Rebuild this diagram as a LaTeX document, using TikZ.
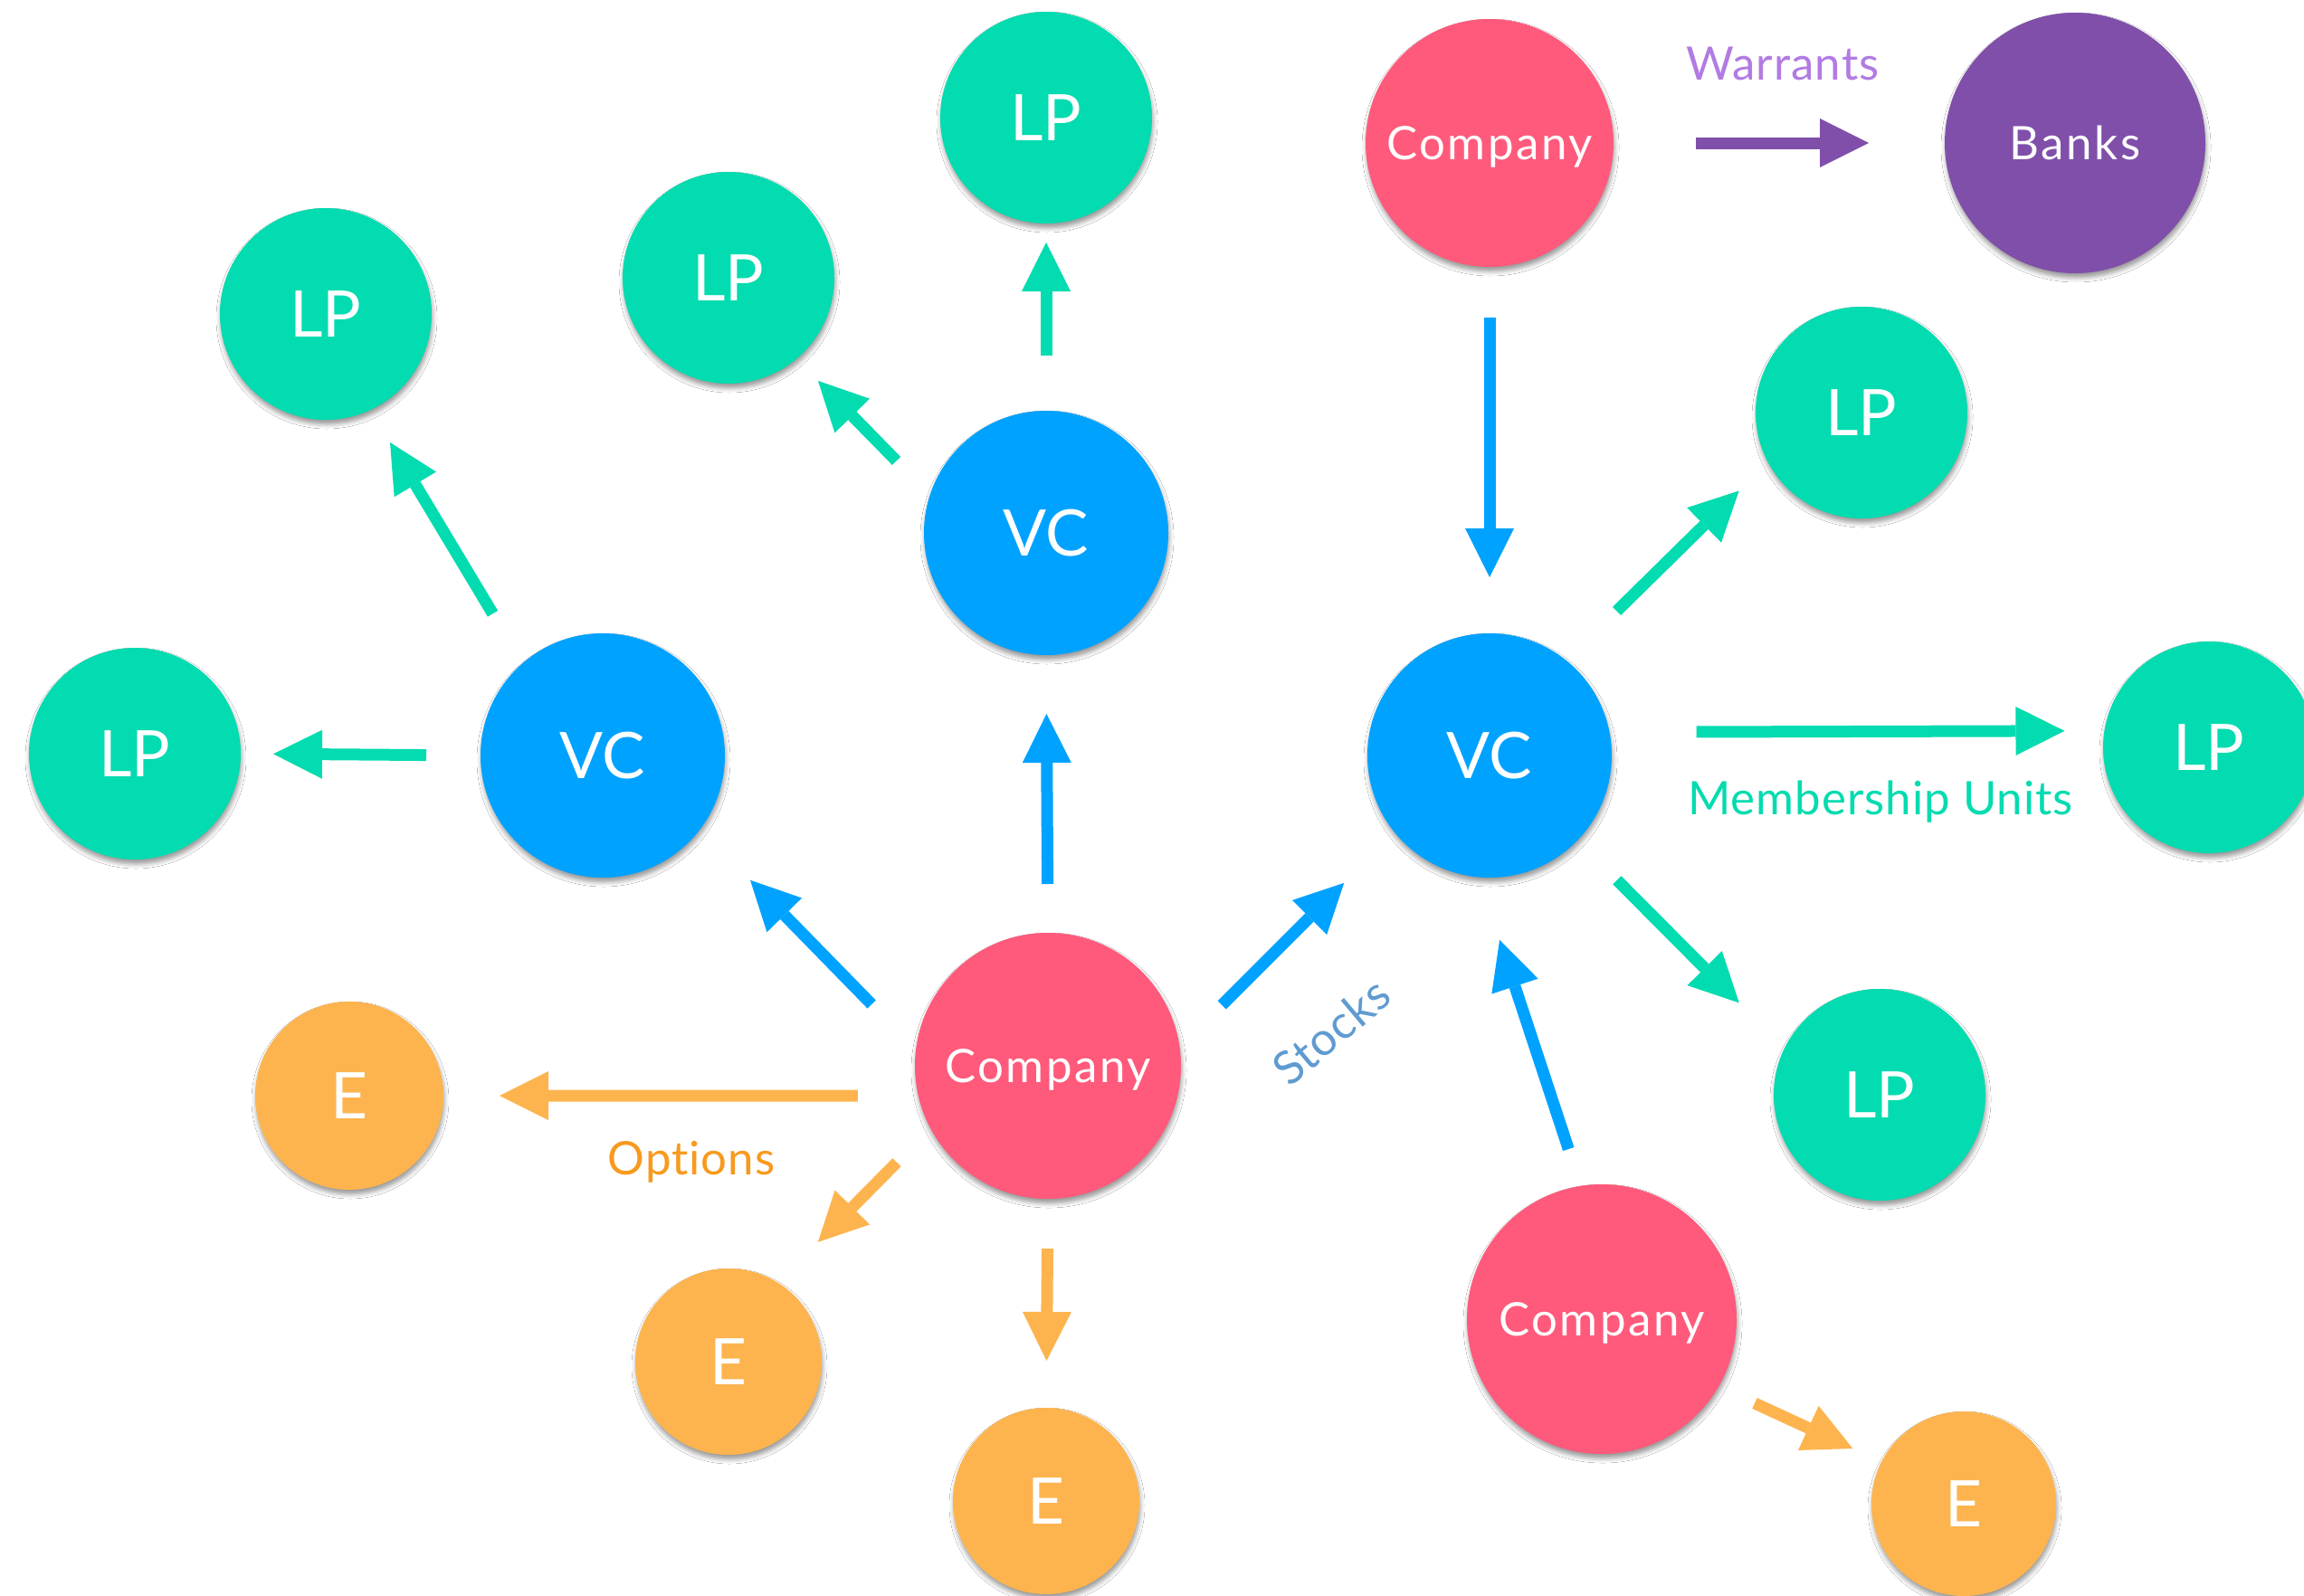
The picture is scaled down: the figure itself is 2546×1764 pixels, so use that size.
\documentclass[tikz,border=0pt]{standalone}
\usepackage{fontspec}
\setmainfont{Lato}
\usetikzlibrary{arrows.meta,shadows.blur}

\definecolor{lpgreen}{HTML}{03DBB0}
\definecolor{vcblue}{HTML}{00A2FF}
\definecolor{copink}{HTML}{FF5A7B}
\definecolor{bankpurple}{HTML}{804FAA}
\definecolor{eorange}{HTML}{FDB44E}
\definecolor{warrtext}{HTML}{B27BE3}
\definecolor{opttext}{HTML}{F79A1E}
\definecolor{stocktext}{HTML}{5F9BD0}

\newfontfamily\wideface[LetterSpace=5,Ligatures=NoCommon]{Lato}
\newfontfamily\labelface[LetterSpace=2,Ligatures=NoCommon]{Lato}

\begin{document}
\begin{tikzpicture}[x=1pt,y=-1pt,
  bubble/.style={circle, inner sep=0pt, outer sep=0pt, text=white,
    blur shadow={shadow xshift=1pt, shadow yshift=-5pt,
                 shadow blur radius=5pt, shadow opacity=40}},
  bigtext/.style={font=\fontsize{71}{71}\selectfont, text height=51pt, text depth=0pt},
  smalltext/.style={font=\wideface\fontsize{51}{51}\selectfont, text height=37pt, text depth=0pt},
  lp/.style={bubble, bigtext, fill=lpgreen, minimum size=234pt},
  vc/.style={bubble, bigtext, fill=vcblue, minimum size=270pt},
  emp/.style={bubble, bigtext, fill=eorange, minimum size=206pt},
  co/.style={bubble, smalltext, fill=copink},
  bank/.style={bubble, smalltext, fill=bankpurple, minimum size=288pt},
  lbl/.style={font=\labelface\fontsize{51}{51}\selectfont, inner sep=0pt},
  flow/.style={line width=13pt, -{Triangle[length=54pt,width=54pt,line width=0pt]}},
]
\fill[white] (0,0) rectangle (2546,1764);
\useasboundingbox (0,0) rectangle (2546,1764);

% investors, funds and companies
\node[lp] (lpA) at (1156,130) {LP};
\node[lp] (lpB) at (805,307) {LP};
\node[lp] (lpC) at (360,347) {LP};
\node[lp] (lpD) at (149,833) {LP};
\node[vc] (vcL) at (666,835) {VC};
\node[vc] (vcT) at (1156,589) {VC};
\node[co, minimum size=274pt] (coTR) at (1646,158) {Company};
\node[bank] (banks) at (2293,158) {Banks};
\node[lp] (lpE) at (2057,456) {LP};
\node[vc] (vcR) at (1646,835) {VC};
\node[lp] (lpF) at (2441,826) {LP};
\node[lp] (lpG) at (2077,1210) {LP};
\node[co, minimum size=294pt] (coC) at (1158,1178) {Company};
\node[co, minimum size=298pt] (coBR) at (1770,1458) {Company};
\node[emp, minimum size=208pt] (eA) at (386,1211) {E};
\node[emp] (eB) at (805,1505) {E};
\node[emp] (eC) at (1156,1659) {E};
\node[emp, minimum size=204pt] (eD) at (2170,1662) {E};

% flows out of the VC funds
\draw[flow, lpgreen, shorten <=61pt, shorten >=21pt] (vcT.90) -- (lpA.270);
\draw[flow, lpgreen, shorten <=53pt, shorten >=34pt] (vcT.162.1) -- (lpB.-50.9);
\draw[flow, lpgreen, shorten <=64pt, shorten >=42pt] (vcL.131.3) -- (lpC.-65.7);
\draw[flow, lpgreen, shorten <=60pt, shorten >=36pt] (vcL.180) -- (lpD.0);
\draw[flow, lpgreen, shorten <=78pt, shorten >=45pt] (vcR.51.1) -- (lpE.-152.9);
\draw[flow, lpgreen, shorten <=96pt, shorten >=44pt] (vcR.11.5) -- (lpF.171.1);
\draw[flow, lpgreen, shorten <=62pt, shorten >=71pt] (vcR.-44.7) -- (lpG.154.4);

% stock flows from companies to funds
\draw[flow, vcblue, shorten <=70pt, shorten >=79pt] (coC.173.2) -- (vcL.-37.8);
\draw[flow, vcblue, shorten <=54pt, shorten >=65pt] (coC.90) -- (vcT.270);
\draw[flow, vcblue, shorten <=66pt, shorten >=79pt] (coC.8.0) -- (vcR.-141.0);
\draw[flow, vcblue, shorten <=56pt, shorten >=62pt] (coTR.270) -- (vcR.90);
\draw[flow, vcblue, shorten <=43pt, shorten >=73pt] (coBR.99.0) -- (vcR.-95.6);

% option grants to employees
\draw[flow, eorange, shorten <=67pt, shorten >=62pt] (coC.193.4) -- (eA.0);
\draw[flow, eorange, shorten <=53pt, shorten >=63pt] (coC.-152.5) -- (eB.58.7);
\draw[flow, eorange, shorten <=55pt, shorten >=52pt] (coC.270) -- (eC.90);
\draw[flow, eorange, shorten <=44pt, shorten >=35pt] (coBR.-30.6) -- (eD.153.6);

% warrants to banks
\draw[flow, bankpurple, shorten <=91pt, shorten >=84pt] (coTR.0) -- (banks.180);

% labels
\node[lbl, text=warrtext, anchor=base] (lblW) at (1970,88) {Warrants};
\node[lbl, text=opttext, anchor=base] (lblO) at (764,1298) {Options};
\node[lbl, text=lpgreen, anchor=base] (lblM) at (2078,900) {Membership Units};
\node[lbl, text=stocktext, rotate=40] (lblS) at (1471,1140) {Stocks};
\end{tikzpicture}
\end{document}
